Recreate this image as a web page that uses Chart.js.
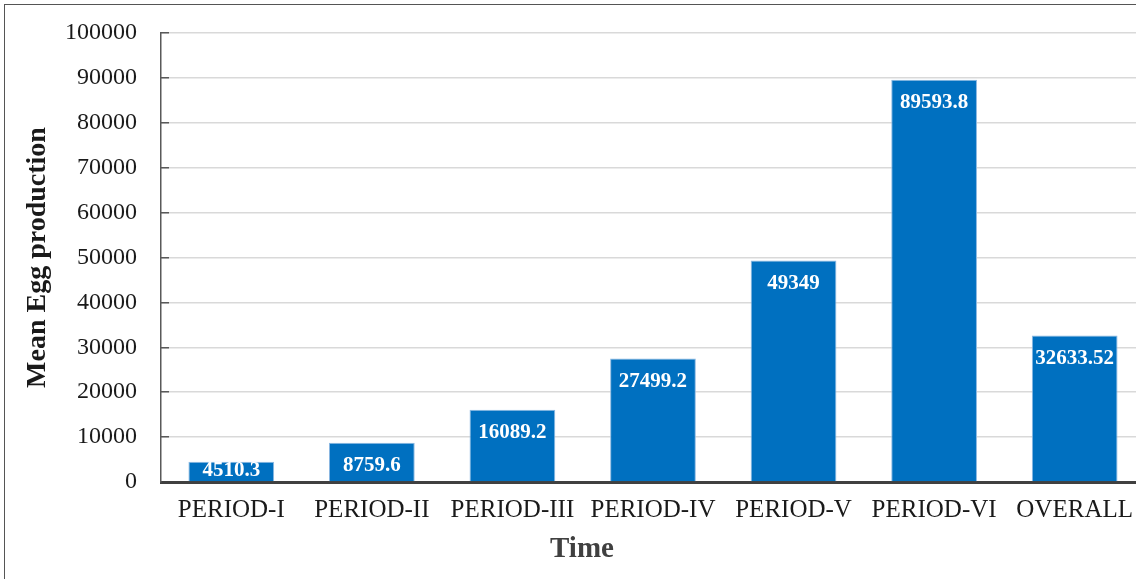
<!DOCTYPE html>
<html>
<head>
<meta charset="utf-8">
<script src="https://cdn.jsdelivr.net/npm/chart.js@4.4.1/dist/chart.umd.min.js"></script>
<style>
  html, body { margin: 0; padding: 0; background: #fff; overflow: hidden; }
  #wrap { position: relative; width: 1136px; height: 579px; overflow: hidden; }
  #frame { position: absolute; left: 4px; top: 4px; width: 1200px; height: 700px; border: 1.5px solid #555; box-sizing: border-box; }
  canvas { position: absolute; left: 0; top: 0; }
</style>
</head>
<body>
<div id="wrap">
  <div id="frame"></div>
  <canvas id="eggChart" width="1146" height="579"></canvas>
</div>
<script>
// data
const periods = ["PERIOD-I", "PERIOD-II", "PERIOD-III", "PERIOD-IV", "PERIOD-V", "PERIOD-VI", "OVERALL"];
const meanEggs = [4510.3, 8759.6, 16089.2, 27499.2, 49349, 89593.8, 32633.52];
const yTicks = [0, 10000, 20000, 30000, 40000, 50000, 60000, 70000, 80000, 90000, 100000];
const xTitle = "Time";
const yTitle = "Mean Egg production";

const serif = "'Liberation Serif', 'Times New Roman', serif";

// white value labels inside the top of each bar + the x title (sits left of plot centre in the original)
const barLabels = {
    id: "barLabels",
    afterDatasetsDraw(chart) {
        const ctx = chart.ctx;
        const meta = chart.getDatasetMeta(0);
        ctx.save();
        ctx.fillStyle = "#ffffff";
        ctx.font = "bold 21px " + serif;
        ctx.textAlign = "center";
        ctx.textBaseline = "middle";
        meta.data.forEach((bar, i) => {
            const y = Math.min(bar.y + 23, bar.base - 11);
            ctx.fillText(String(meanEggs[i]), bar.x, y);
        });
        ctx.fillStyle = "#404040";
        ctx.font = "bold 29px " + serif;
        ctx.fillText(xTitle, 582, 550);
        ctx.restore();
    }
};

const ctx = document.getElementById("eggChart").getContext("2d");
new Chart(ctx, {
    type: "bar",
    data: {
        labels: periods,
        datasets: [{
            data: meanEggs,
            backgroundColor: "#0070C0",
            borderColor: "#8DB9E2",
            borderWidth: 1,
            barPercentage: 0.61,
            categoryPercentage: 1
        }]
    },
    options: {
        responsive: false,
        animation: false,
        layout: { padding: { top: 33, right: 0, left: 0, bottom: 0 } },
        plugins: { legend: { display: false }, tooltip: { enabled: false } },
        scales: {
            x: {
                grid: { display: false, drawTicks: false },
                border: { color: "#404040", width: 3 },
                ticks: { font: { family: serif, size: 25 }, color: "#1a1a1a", padding: 13, maxRotation: 0, autoSkip: false },
                afterFit(scale) { scale.height = 97; }
            },
            y: {
                min: 0,
                max: 100000,
                afterBuildTicks(scale) { scale.ticks = yTicks.map(v => ({ value: v })); },
                ticks: { font: { family: serif, size: 24 }, color: "#1a1a1a", padding: 32, callback: v => String(v) },
                // negative tick length puts the tick marks inside the plot, like the original
                grid: { color: "#d9d9d9", lineWidth: 1.5, tickLength: -8, tickColor: "#595959" },
                border: { color: "#595959", width: 1.5 },
                title: { display: true, text: yTitle, font: { family: serif, size: 28, weight: "bold" }, color: "#1a1a1a", padding: { top: 21, bottom: 0 } },
                afterFit(scale) {
                    scale.width = 161;
                    scale.paddingTop = 0;
                    scale.paddingBottom = 0;
                }
            }
        }
    },
    plugins: [barLabels]
});
</script>
</body>
</html>
